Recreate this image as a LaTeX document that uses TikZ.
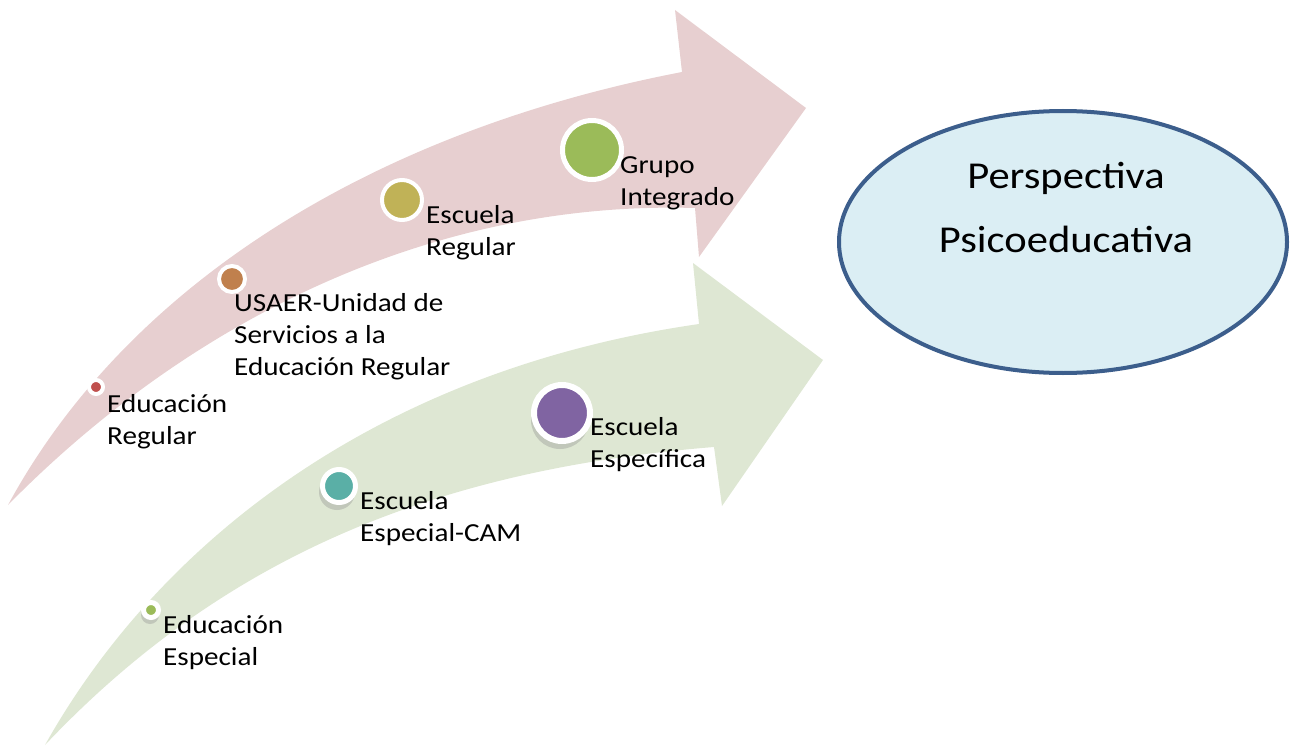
\documentclass[tikz,border=0pt]{standalone}
\usepackage{fontspec}
\setmainfont[FakeStretch=1.12]{Carlito}
\usepackage{tikz}
\usetikzlibrary{calc,shapes.geometric}

\definecolor{pinkband}{RGB}{231,207,208}
\definecolor{greenband}{RGB}{222,231,211}
\definecolor{ovalfill}{RGB}{219,238,244}
\definecolor{ovaldraw}{RGB}{60,94,140}

\begin{document}
\begin{tikzpicture}[x=1pt, y=-1pt,
    dot/.style={circle, draw=white, inner sep=0pt},
    dotshadow/.style={circle, fill=black!45, opacity=0.35, inner sep=0pt},
    lbl/.style={anchor=base west, align=left, inner sep=0pt,
        font=\fontsize{26}{32}\selectfont}]
    \useasboundingbox (0,0) rectangle (1291,749);

    % Draw the two curved arrows
    \fill[pinkband] (8,505) .. controls (130,280) and (380,130) .. (682,72)
        -- (675,10) -- (806,108) -- (699,257) -- (695,208)
        .. controls (420,200) and (180,330) .. (8,505) -- cycle;
    \fill[greenband] (45,745) .. controls (160,540) and (380,370) .. (699,324)
        -- (693,263) -- (823,360) -- (722,506) -- (714,447)
        .. controls (430,470) and (220,560) .. (45,745) -- cycle;

    % Draw the oval
    \node[ellipse, draw=ovaldraw, line width=4pt, fill=ovalfill,
        minimum width=448pt, minimum height=262pt, inner sep=0pt] (oval) at (1063,242) {};
    \node[align=center, inner sep=0pt, anchor=base, font=\fontsize{38}{64}\selectfont]
        (persp) at (1066,252) {Perspectiva\\Psicoeducativa};

    % Draw the shadows of the lower dots
    \node[dotshadow, minimum size=18pt] at (150,615) {};
    \node[dotshadow, minimum size=36pt] at (337,492) {};
    \node[dotshadow, minimum size=58pt] at (560,420) {};

    % Draw the dots
    \node[dot, fill={rgb,255:red,192;green,80;blue,77}, line width=4pt, minimum size=14pt] (edreg) at (96,387) {};
    \node[dot, fill={rgb,255:red,192;green,128;blue,77}, line width=4pt, minimum size=26pt] (usaer) at (232,279) {};
    \node[dot, fill={rgb,255:red,192;green,178;blue,87}, line width=4pt, minimum size=40pt] (escreg) at (402,200) {};
    \node[dot, fill={rgb,255:red,155;green,187;blue,89}, line width=5pt, minimum size=59pt] (grupo) at (592,150) {};
    \node[dot, fill={rgb,255:red,155;green,187;blue,89}, line width=5pt, minimum size=15pt] (edesp) at (151,610) {};
    \node[dot, fill={rgb,255:red,90;green,175;blue,166}, line width=5pt, minimum size=33pt] (cam) at (339,486) {};
    \node[dot, fill={rgb,255:red,128;green,100;blue,162}, line width=6pt, minimum size=56pt] (espec) at (562,413) {};

    % Draw the labels (anchored at the last line)
    \node[lbl] (edregtxt) at (107,444) {Educación\\Regular};
    \node[lbl] (usaertxt) at (234,375) {USAER-Unidad de\\Servicios a la\\Educación Regular};
    \node[lbl] (escregtxt) at (426,255) {Escuela\\Regular};
    \node[lbl] (grupotxt) at (620,205) {Grupo\\Integrado};
    \node[lbl] (edesptxt) at (163,665) {Educación\\Especial};
    \node[lbl] (camtxt) at (360,541) {Escuela\\Especial-CAM};
    \node[lbl] (espectxt) at (590,467) {Escuela\\Específica};
\end{tikzpicture}
\end{document}
